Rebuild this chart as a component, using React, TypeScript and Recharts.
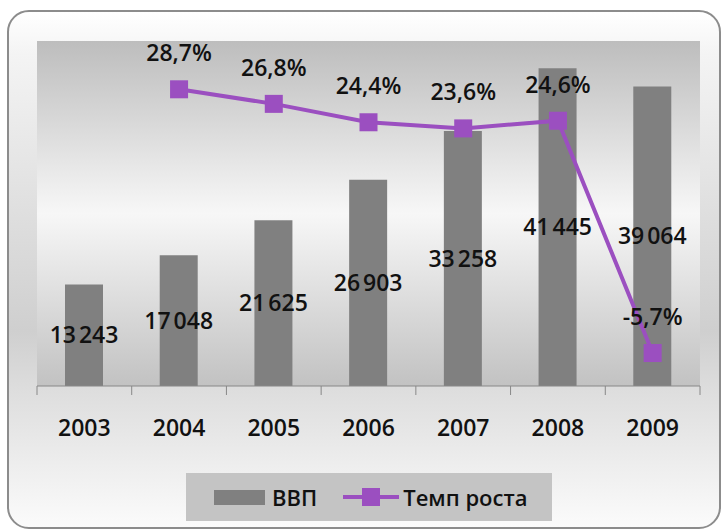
import React from 'react';
import {
  ComposedChart,
  Bar,
  Line,
  XAxis,
  YAxis,
  CartesianGrid,
  LabelList,
} from 'recharts';

const years = ['2003', '2004', '2005', '2006', '2007', '2008', '2009'];
const gdp = [13243, 17048, 21625, 26903, 33258, 41445, 39064];
const growth: (number | null)[] = [null, 28.7, 26.8, 24.4, 23.6, 24.6, -5.7];

const data = years.map((year, i) => ({ year, gdp: gdp[i], growth: growth[i] }));

const FONT = '"Open Sans", "Liberation Sans", sans-serif';
const PURPLE = '#9b4fc0';
const BAR = '#808080';

// narrow no-break space so the label stays on one line
const fmtGdp = (v: any) => (v == null ? '' : String(v).replace(/\B(?=(\d{3})+(?!\d))/g, '\u202F'));
const fmtPct = (v: any) => (v == null ? '' : v.toFixed(1).replace('.', ',') + '%');

const SquareDot = (props: any) => {
  const { cx, cy, index } = props;
  if (cx == null || cy == null) return <g key={`d-${index}`} />;
  return <rect key={`d-${index}`} x={cx - 9} y={cy - 9} width={18} height={18} fill={PURPLE} />;
};

const YearTick = (props: any) => {
  const { x, y, payload, index, visibleTicksCount } = props;
  const off = payload?.offset ?? 0;
  const last = index === visibleTicksCount - 1;
  return (
    <g>
      <line x1={x - off} x2={x - off} y1={y} y2={y + 9} stroke="#888" />
      {last && <line x1={x + off} x2={x + off} y1={y} y2={y + 9} stroke="#888" />}
      <text
        x={x}
        y={y + 42}
        dy="0.36em"
        textAnchor="middle"
        fill="#111"
        fontSize={23}
        fontWeight={600}
        fontFamily={FONT}
      >
        {payload.value}
      </text>
    </g>
  );
};

const ChartLegend = () => (
  <div
    style={{
      position: 'absolute',
      left: 186,
      top: 473,
      width: 366,
      height: 48,
      background: '#c4c4c4',
      display: 'flex',
      alignItems: 'center',
      fontFamily: FONT,
      fontWeight: 600,
      fontSize: 22,
      color: '#111',
    }}
  >
    <div style={{ width: 51, height: 15, background: BAR, marginLeft: 28 }} />
    <span style={{ marginLeft: 7 }}>ВВП</span>
    <svg width={56} height={20} style={{ marginLeft: 26 }}>
      <line x1={0} x2={56} y1={10} y2={10} stroke={PURPLE} strokeWidth={4} />
      <rect x={19} y={1} width={18} height={18} fill={PURPLE} />
    </svg>
    <span style={{ marginLeft: 4 }}>Темп роста</span>
  </div>
);

const App: React.FC = () => {
  return (
    <div style={{ position: 'absolute', left: 0, top: 0, width: 722, height: 531, background: '#fff' }}>
      <div
        style={{
          position: 'absolute',
          left: 7,
          top: 10,
          width: 710,
          height: 515,
          border: '2px solid #8c8c8c',
          borderRadius: 22,
          background:
            'linear-gradient(to bottom, #ffffff 0%, #f4f4f4 8%, #cfcfcf 62%, #dedede 74%, #fbfbfb 100%)',
        }}
      />
      <div style={{ position: 'absolute', left: 0, top: 0 }}>
        <ComposedChart
          width={722}
          height={531}
          data={data}
          margin={{ top: 41, right: 22, left: 37, bottom: 95 }}
        >
          <defs>
            <linearGradient id="plotBg" x1="0" y1="0" x2="0" y2="1">
              <stop offset="0%" stopColor="#bdbdbd" />
              <stop offset="50%" stopColor="#f7f7f7" />
              <stop offset="100%" stopColor="#c2c2c2" />
            </linearGradient>
          </defs>
          <CartesianGrid fill="url(#plotBg)" horizontal={false} vertical={false} />
          <XAxis
            dataKey="year"
            height={50}
            tickSize={0}
            tickMargin={0}
            tickLine={false}
            axisLine={{ stroke: '#888' }}
            tick={<YearTick />}
            interval={0}
          />
          <YAxis yAxisId="left" hide domain={[0, 45000]} />
          <YAxis yAxisId="right" orientation="right" hide domain={[-10, 35]} />
          <Bar yAxisId="left" dataKey="gdp" fill={BAR} barSize={38} isAnimationActive={false}>
            <LabelList
              dataKey="gdp"
              position="center"
              formatter={fmtGdp}
              fill="#111"
              fontSize={23}
              fontWeight={600}
              fontFamily={FONT}
            />
          </Bar>
          <Line
            yAxisId="right"
            dataKey="growth"
            stroke={PURPLE}
            strokeWidth={4}
            dot={SquareDot}
            activeDot={false}
            type="linear"
            isAnimationActive={false}
          >
            <LabelList
              dataKey="growth"
              position="top"
              offset={28}
              formatter={fmtPct}
              fill="#111"
              fontSize={23}
              fontWeight={600}
              fontFamily={FONT}
            />
          </Line>
        </ComposedChart>
      </div>
      <ChartLegend />
    </div>
  );
};

export default App;
